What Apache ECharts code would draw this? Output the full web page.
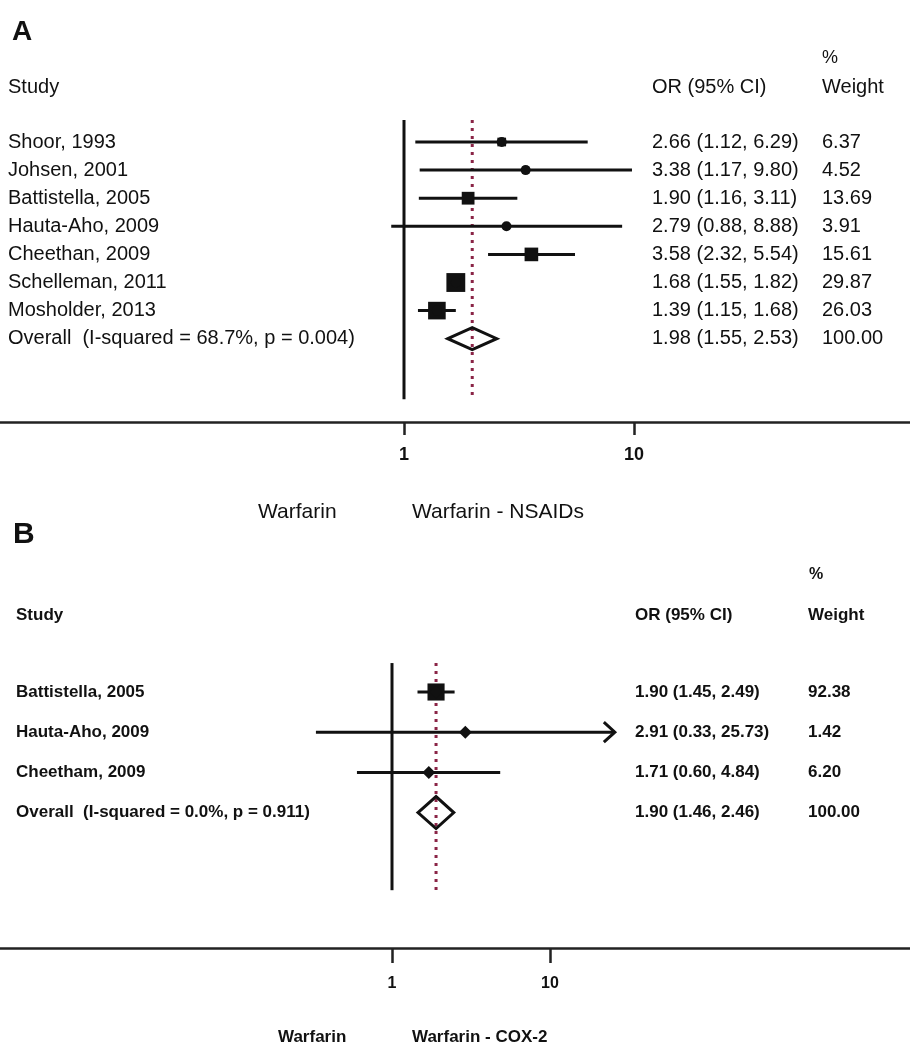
<!DOCTYPE html>
<html>
<head>
<meta charset="utf-8">
<script src="https://cdn.jsdelivr.net/npm/echarts@6/dist/echarts.min.js"></script>
<style>
  html, body { margin: 0; padding: 0; background: #fff; }
  #chart { width: 910px; height: 1050px; }
</style>
</head>
<body>
<div id="chart"></div>
<script>
// A: Warfarin vs Warfarin - NSAIDs
var studiesA = ['Shoor, 1993', 'Johsen, 2001', 'Battistella, 2005', 'Hauta-Aho, 2009',
  'Cheethan, 2009', 'Schelleman, 2011', 'Mosholder, 2013'];
var orA = [2.66, 3.38, 1.90, 2.79, 3.58, 1.68, 1.39];
var loA = [1.12, 1.17, 1.16, 0.88, 2.32, 1.55, 1.15];
var hiA = [6.29, 9.80, 3.11, 8.88, 5.54, 1.82, 1.68];
var weightA = [6.37, 4.52, 13.69, 3.91, 15.61, 29.87, 26.03];
var overallA = [1.98, 1.55, 2.53];
var overallLabelA = 'Overall  (I-squared = 68.7%, p = 0.004)';

// B: Warfarin vs Warfarin - COX-2
var studiesB = ['Battistella, 2005', 'Hauta-Aho, 2009', 'Cheetham, 2009'];
var orB = [1.90, 2.91, 1.71];
var loB = [1.45, 0.33, 0.60];
var hiB = [2.49, 25.73, 4.84];
var weightB = [92.38, 1.42, 6.20];
var overallB = [1.90, 1.46, 2.46];
var overallLabelB = 'Overall  (I-squared = 0.0%, p = 0.911)';

var tickValues = [1, 10];
var overallWeight = '100.00';

var FONT = '"Liberation Sans", Arial, Helvetica, sans-serif';
var chart = echarts.init(document.getElementById('chart'));

function ciText(o, l, h) {
  return o.toFixed(2) + ' (' + l.toFixed(2) + ', ' + h.toFixed(2) + ')';
}

function panelSeries(g, d, st) {
  var n = d.names.length;
  var ciData = [], boxData = [], ptData = [], txtData = [];
  for (var i = 0; i < n; i++) {
    ciData.push([d.lo[i], d.hi[i], i]);
    boxData.push([d.or[i], i, d.w[i]]);
    ptData.push([d.or[i], i]);
    txtData.push([1, i]);
  }
  txtData.push([1, n]);
  var names = d.names.concat([d.overallLabel]);
  var cis = d.or.map(function (v, i) { return ciText(v, d.lo[i], d.hi[i]); })
    .concat([ciText(d.overall[0], d.overall[1], d.overall[2])]);
  var ws = d.w.map(function (v) { return v.toFixed(2); }).concat([overallWeight]);

  function txt(s, x, y) {
    return { type: 'text', x: x, y: y, style: {
      text: s, fill: '#111', fontSize: st.fs, fontWeight: st.fw, fontFamily: FONT,
      align: 'left', verticalAlign: 'middle' } };
  }

  return [
    { // null line and overall estimate line
      type: 'custom', xAxisIndex: g, yAxisIndex: g, silent: true, z: 1,
      data: [[1, st.refTop, st.refBottom, 0], [d.overall[0], st.refTop, st.refBottom, 1]],
      renderItem: function (params, api) {
        var a = api.coord([api.value(0), api.value(1)]);
        var b = api.coord([api.value(0), api.value(2)]);
        var dotted = api.value(3) === 1;
        return { type: 'line', shape: { x1: a[0], y1: a[1], x2: b[0], y2: b[1] },
          style: dotted ? { stroke: '#8a2446', lineWidth: 3, lineDash: [3, 5] }
                        : { stroke: '#111', lineWidth: 3 } };
      }
    },
    { // confidence intervals
      type: 'custom', xAxisIndex: g, yAxisIndex: g, silent: true, z: 2,
      data: ciData,
      renderItem: function (params, api) {
        var a = api.coord([api.value(0), api.value(2)]);
        var b = api.coord([api.value(1), api.value(2)]);
        var kids = [{ type: 'line', shape: { x1: a[0], y1: a[1], x2: b[0], y2: b[1] },
          style: { stroke: '#111', lineWidth: 3 } }];
        if (api.value(1) > tickValues[tickValues.length - 1]) {
          kids.push({ type: 'polyline',
            shape: { points: [[b[0] - 11, b[1] - 10], [b[0], b[1]], [b[0] - 11, b[1] + 10]] },
            style: { stroke: '#111', lineWidth: 3, fill: null } });
        }
        return { type: 'group', children: kids };
      }
    },
    { // weight boxes
      type: 'scatter', xAxisIndex: g, yAxisIndex: g, silent: true, z: 3,
      symbol: 'rect', data: boxData,
      symbolSize: function (v) { return st.boxK * Math.sqrt(v[2]); },
      itemStyle: { color: '#111', opacity: 1 }
    },
    { // point estimates
      type: 'scatter', xAxisIndex: g, yAxisIndex: g, silent: true, z: 4,
      symbol: st.ptSymbol, symbolSize: st.ptSize, data: ptData,
      itemStyle: { color: '#111', opacity: 1 }
    },
    { // pooled diamond
      type: 'custom', xAxisIndex: g, yAxisIndex: g, silent: true, z: 4,
      data: [[d.overall[1], d.overall[0], d.overall[2], n]],
      renderItem: function (params, api) {
        var y = api.value(3);
        var l = api.coord([api.value(0), y]);
        var c = api.coord([api.value(1), y]);
        var r = api.coord([api.value(2), y]);
        return { type: 'polygon',
          shape: { points: [l, [c[0], c[1] - st.half], r, [c[0], c[1] + st.half]] },
          style: { fill: 'none', stroke: '#111', lineWidth: 3 } };
      }
    },
    { // row text columns
      type: 'custom', xAxisIndex: g, yAxisIndex: g, silent: true, z: 5,
      data: txtData,
      renderItem: function (params, api) {
        var y = api.coord([1, api.value(1)])[1];
        var i = params.dataIndex;
        return { type: 'group', children: [
          txt(names[i], st.xName, y), txt(cis[i], st.xCi, y), txt(ws[i], st.xW, y)
        ] };
      }
    }
  ];
}

function xAxisCfg(g, min, max, st) {
  return {
    gridIndex: g, type: 'log', logBase: 10, min: min, max: max,
    axisLine: { show: true, onZero: false, lineStyle: { color: '#222', width: 2.5 } },
    axisTick: { show: true, customValues: tickValues, length: st.tickLen,
      lineStyle: { color: '#222', width: 2.5 } },
    axisLabel: { customValues: tickValues, margin: st.labMargin, fontSize: st.labFs,
      fontWeight: 'bold', color: '#111', fontFamily: FONT,
      formatter: function (v) { return String(Math.round(v)); } },
    splitLine: { show: false }
  };
}

var stA = { fs: 20, fw: 'normal', xName: 8, xCi: 652, xW: 822, boxK: 3.45,
  ptSymbol: 'circle', ptSize: 10, half: 11, refTop: -0.78, refBottom: 9.15,
  tickLen: 13, labMargin: 24, labFs: 18 };
var stB = { fs: 17, fw: 'bold', xName: 16, xCi: 635, xW: 808, boxK: 1.78,
  ptSymbol: 'diamond', ptSize: 13, half: 16, refTop: -0.72, refBottom: 4.93,
  tickLen: 15, labMargin: 28, labFs: 16 };

var dataA = { names: studiesA, or: orA, lo: loA, hi: hiA, w: weightA,
  overall: overallA, overallLabel: overallLabelA };
var dataB = { names: studiesB, or: orB, lo: loB, hi: hiB, w: weightB,
  overall: overallB, overallLabel: overallLabelB };

function head(s, x, y, fs, fw) {
  return { type: 'text', x: x, y: y, silent: true, style: {
    text: s, fill: '#111', fontSize: fs, fontWeight: fw, fontFamily: FONT,
    align: 'left', verticalAlign: 'middle' } };
}

var option = {
  animation: false,
  backgroundColor: '#fff',
  grid: [
    { left: 0, right: 0, top: 113.9, height: 308.1 },
    { left: 0, right: 0, top: 651.8, height: 296.2 }
  ],
  xAxis: [
    xAxisCfg(0, Math.pow(10, -404 / 230), Math.pow(10, 506 / 230), stA),
    xAxisCfg(1, Math.pow(10, -392 / 158), Math.pow(10, 518 / 158), stB)
  ],
  yAxis: [
    { gridIndex: 0, type: 'value', inverse: true, min: -1, max: 9.964, show: false },
    { gridIndex: 1, type: 'value', inverse: true, min: -1, max: 6.368, show: false }
  ],
  graphic: [
    head('A', 12, 32, 28, 'bold'),
    head('%', 822, 58, 18, 'normal'),
    head('Study', 8, 87, 20, 'normal'),
    head('OR (95% CI)', 652, 87, 20, 'normal'),
    head('Weight', 822, 87, 20, 'normal'),
    head('Warfarin', 258, 512, 21, 'normal'),
    head('Warfarin - NSAIDs', 412, 512, 21, 'normal'),
    head('B', 13, 535, 30, 'bold'),
    head('%', 809, 575, 16, 'bold'),
    head('Study', 16, 615, 17, 'bold'),
    head('OR (95% CI)', 635, 615, 17, 'bold'),
    head('Weight', 808, 615, 17, 'bold'),
    head('Warfarin', 278, 1037, 17, 'bold'),
    head('Warfarin - COX-2', 412, 1037, 17, 'bold')
  ],
  series: panelSeries(0, dataA, stA).concat(panelSeries(1, dataB, stB))
};

chart.setOption(option);
</script>
</body>
</html>
